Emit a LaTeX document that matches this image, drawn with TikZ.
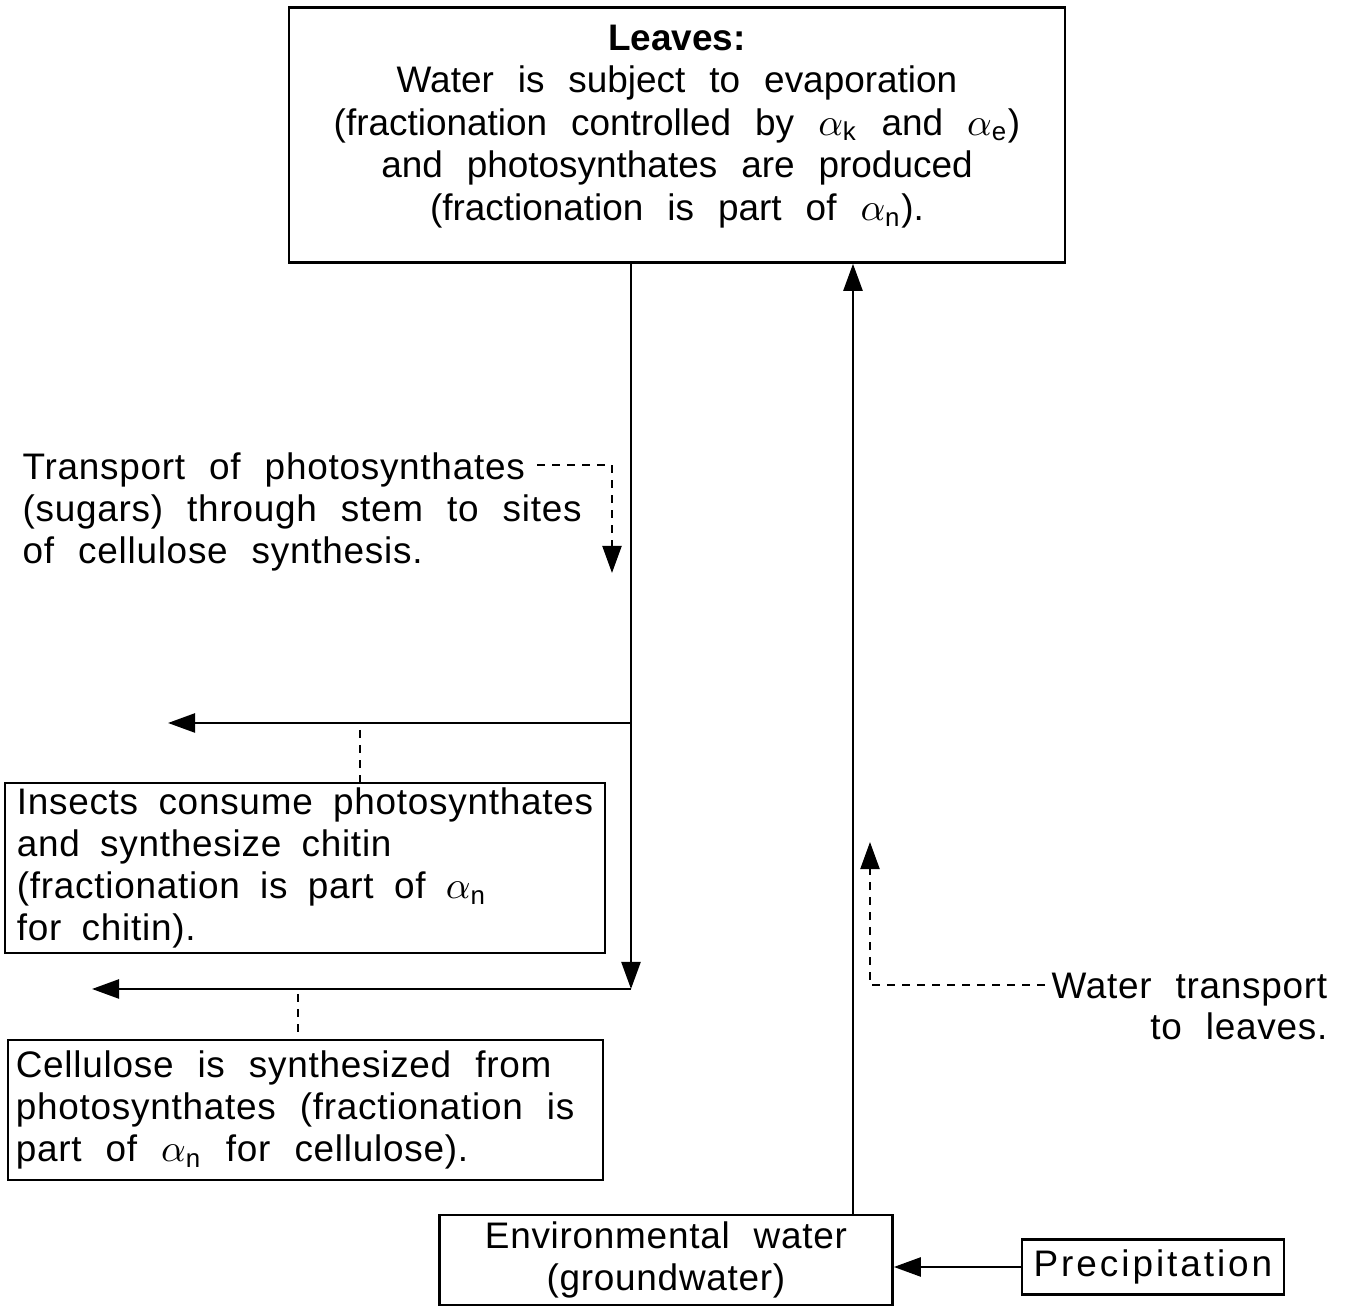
\documentclass[tikz,border=0pt]{standalone}
\usepackage{fontspec}
\setmainfont{Liberation Sans}
\usetikzlibrary{arrows.meta,positioning}
\newcommand{\leavesfont}{\fontsize{10.5pt}{12.1pt}\selectfont\spaceskip=0.6em plus 0.1em\relax}
\newcommand{\txtfont}{\fontsize{10.5pt}{11.9pt}\selectfont\addfontfeature{LetterSpace=2}\spaceskip=0.65em plus 0.1em\relax}
\newcommand{\widesp}{\spaceskip=0.65em plus 0.1em\relax\hyphenpenalty=10000\relax}

\begin{document}
\begin{tikzpicture}[x=0.01cm,y=-0.01cm,
    txt/.style={font=\txtfont,execute at begin node=\widesp},
    box/.style={draw,line width=0.7pt,txt,inner sep=0pt},
    arr/.style={line width=0.7pt,-{Triangle[length=0.27cm,width=0.19cm]}},
    link/.style={line width=0.6pt,dash pattern=on 0.08cm off 0.07cm},
    linkarr/.style={link,-{Triangle[length=0.27cm,width=0.19cm]}}]
        \useasboundingbox (0,0) rectangle (1347,1310);

        % boxes
        \node (leaves) [box,font=\leavesfont,execute at begin node={},align=center,minimum width=7.76cm,minimum height=2.55cm] at (677,135)
            {\textbf{Leaves:}\\ Water is subject to evaporation\\
             (fractionation controlled by $\alpha_{\mathrm{k}}$ and $\alpha_{\mathrm{e}}$)\\
             and photosynthates are produced\\
             (fractionation is part of $\alpha_{\mathrm{n}}$).\rule[-0.25cm]{0pt}{0pt}};
        \node (insects) [box,align=left,text width=5.76cm,inner xsep=0.12cm,minimum height=1.7cm,
            execute at begin node={\spaceskip=0.55em plus 0.1em\relax\hyphenpenalty=10000\relax}] at (305,868)
            {Insects consume photosynthates\\ and synthesize chitin\\
             (fractionation is part of $\alpha_{\mathrm{n}}$\\ for chitin).};
        \node (cellulose) [box,align=left,text width=5.79cm,inner xsep=0.08cm,minimum height=1.4cm] at (305.5,1110)
            {Cellulose is synthesized from\\ photosynthates (fractionation is\\
             part of $\alpha_{\mathrm{n}}$ for cellulose).};
        \node (env) [box,align=center,minimum width=4.53cm,minimum height=0.9cm] at (666,1260)
            {Environmental water\\ (groundwater)};
        \node (precip) [box,minimum width=2.62cm,minimum height=0.55cm] at (1153,1267)
            {\addfontfeature{LetterSpace=8}Precipitation};

        % side texts
        \node (transport) [txt,align=left,anchor=north west,inner sep=0pt] at (22,452)
            {Transport of photosynthates\\ (sugars) through stem to sites\\ of cellulose synthesis.};
        \node (water) [txt,align=right,anchor=north east,inner sep=0pt] at (1328,972)
            {Water transport\\ to leaves.};

        \coordinate (fork1) at (631,723);
        \coordinate (fork2) at (631,989);
        \coordinate (tip1) at (168,723);
        \coordinate (tip2) at (92,989);
        \coordinate (up) at (853,0);
        \coordinate (tp) at (537,465);
        \coordinate (tpend) at (612,573);
        \coordinate (wt) at (1045,985);
        \coordinate (wtend) at (870,842);
        \coordinate (d1) at (360,730);
        \coordinate (d2) at (298,994);

        % stem
        \draw[arr] (leaves.south -| fork1) -- (fork1) -- (fork2);
        \draw[arr] (fork1) -- (tip1);
        \draw[arr] (fork2) -- (tip2);
        \draw[link] (d1) -- (d1 |- insects.north);
        \draw[link] (d2) -- (d2 |- cellulose.north);

        % water
        \draw[arr] (env.north -| up) -- (up |- leaves.south);
        \draw[arr] (precip.west) -- (precip.west -| env.east);

        \draw[linkarr] (tp) -| (tpend);
        \draw[linkarr] (wt) -| (wtend);
    \end{tikzpicture}
\end{document}
